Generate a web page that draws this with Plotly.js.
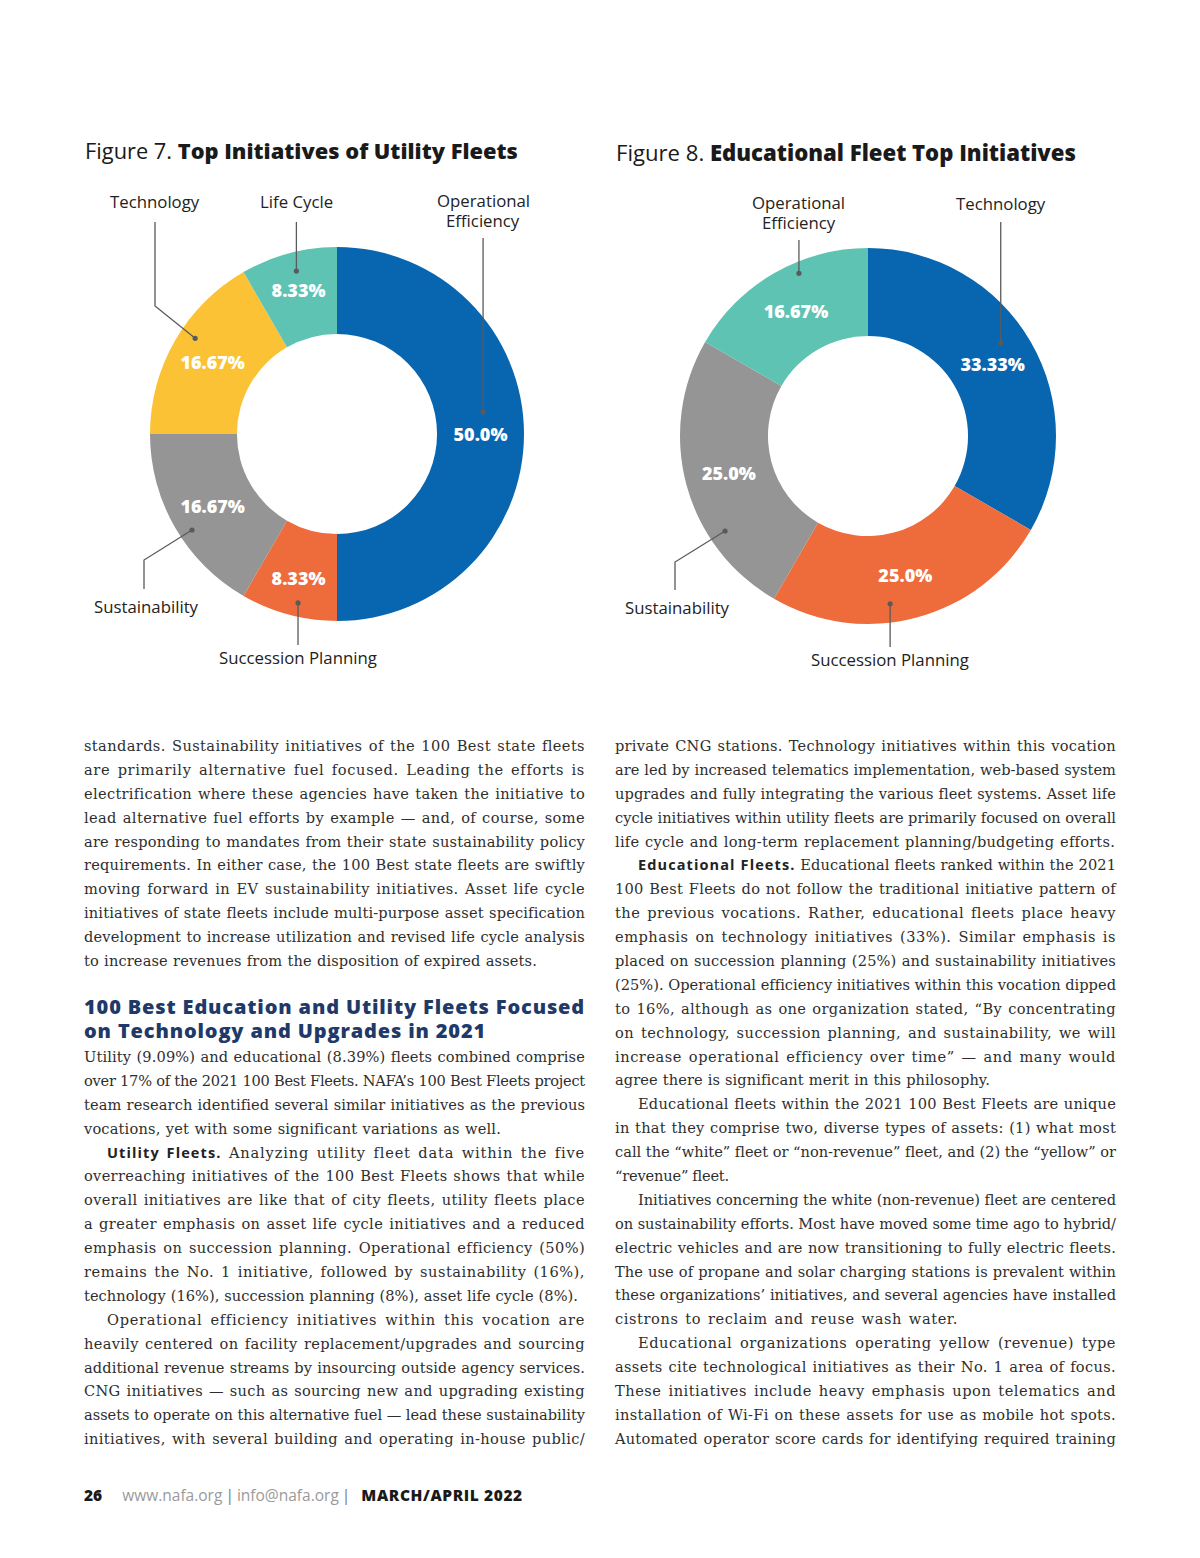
<!DOCTYPE html>
<html><head><meta charset="utf-8">
<script src="https://cdn.plot.ly/plotly-3.0.1.min.js"></script>
<style>
html,body{margin:0;padding:0;background:#fff;}
#page{position:relative;width:1200px;height:1558px;overflow:hidden;background:#fff;}
#chart{position:absolute;left:0;top:0;width:1200px;height:700px;}
.col{position:absolute;width:501px;font-family:"DejaVu Serif",serif;font-size:14.6px;line-height:23.9px;color:#2e2e2e;}
.ln{white-space:nowrap;height:23.9px;}
.ln .t{display:inline-block;}
.lead{font-family:"Open Sans",sans-serif;font-weight:700;font-size:14.5px;letter-spacing:1.1px;color:#222;}
#heading{position:absolute;left:84px;top:995px;font-family:"Open Sans",sans-serif;font-weight:800;font-size:20px;color:#1f3a68;white-space:nowrap;line-height:24px;}
#footer{position:absolute;left:84px;top:1484px;font-family:"Open Sans",sans-serif;font-size:15.5px;white-space:nowrap;line-height:22px;}
#footer .pg{font-weight:800;color:#1a1a1a;margin-right:20px;}
#footer .url{color:#9a9a9a;font-weight:400;}
#footer .bar{color:#777;margin:0 3px;}
#footer .date{font-weight:800;color:#1a1a1a;margin-left:8px;letter-spacing:0.6px;}
</style></head>
<body>
<div id="page">
<div id="chart"></div>
<div id="col1a" class="col" style="left:84px;top:734px;"></div>
<div id="heading"></div>
<div id="col1b" class="col" style="left:84px;top:1045px;"></div>
<div id="col2" class="col" style="left:615px;top:734px;"></div>
<div id="footer"><span class="pg">26</span><span class="url">www.nafa.org</span><span class="bar">|</span><span class="url">info@nafa.org</span><span class="bar">|</span><span class="date">MARCH/APRIL 2022</span></div>
</div>
<script>
// ---------- DATA ----------
const utilityLabels = ["Operational Efficiency", "Succession Planning", "Sustainability", "Technology", "Life Cycle"];
const utilityValues = [50.0, 8.33, 16.67, 16.67, 8.33];
const utilityText   = ["50.0%", "8.33%", "16.67%", "16.67%", "8.33%"];

const eduLabels = ["Technology", "Succession Planning", "Sustainability", "Operational Efficiency"];
const eduValues = [33.33, 25.0, 25.0, 16.67];
const eduText   = ["33.33%", "25.0%", "25.0%", "16.67%"];

const fig7Title = ["Figure 7. ", "Top Initiatives of Utility Fleets"];
const fig8Title = ["Figure 8. ", "Educational Fleet Top Initiatives"];

// ---------- STYLE ----------
const BLUE = "#0865b0", ORANGE = "#ee6b3c", GRAY = "#959595", YELLOW = "#fcc236", TEAL = "#5ec3b3";
const utilityColors = [BLUE, ORANGE, GRAY, YELLOW, TEAL];
const eduColors = [BLUE, ORANGE, GRAY, TEAL];

const W = 1200, H = 700;
const pie1 = {cx: 337, cy: 434, r: 187, hole: 0.535};
const pie2 = {cx: 868, cy: 436, r: 188, hole: 0.532};

const SANS = "Open Sans";
const cv = document.createElement("canvas").getContext("2d");
function tw(s, weight, size, fam) { cv.font = weight + " " + size + "px '" + fam + "'"; return cv.measureText(s).width; }

const px = x => x / W, py = y => 1 - y / H;
function dom(p) { return {x: [px(p.cx - p.r), px(p.cx + p.r)], y: [py(p.cy + p.r), py(p.cy - p.r)]}; }

function pieTrace(labels, values, text, colors, p) {
  return {
    type: "pie", labels: labels, values: values, text: text, textinfo: "text",
    sort: false, direction: "clockwise", rotation: 0, hole: p.hole,
    marker: {colors: colors, line: {width: 0}},
    textposition: "inside", insidetextorientation: "horizontal",
    textfont: {family: SANS, size: 18, color: "#ffffff", weight: 800},
    domain: dom(p), hoverinfo: "label+percent", showlegend: false
  };
}

// callouts: leader line geometry (layout only); dot derived from slice angle
const callouts1 = [
  {slice: 0, dAng: -8.6, rf: 0.79, label: "Operational<br>Efficiency", labelY: 210, endY: 238},
  {slice: 1, dAng: -2, rf: 0.927, label: "Succession Planning", labelY: 657, endY: 645},
  {slice: 2, dAng: -3.5, rf: 0.93, label: "Sustainability", labelX: 146, labelY: 606, elbow: [144, 560], endY: 589},
  {slice: 3, dAng: 4, rf: 0.915, label: "Technology", labelX: 155, labelY: 201, elbow: [155, 306], endY: 222},
  {slice: 4, dAng: 1, rf: 0.898, label: "Life Cycle", labelY: 201, endY: 222}
];
const callouts2 = [
  {slice: 0, dAng: -5, rf: 0.862, label: "Technology", labelY: 203, endY: 222},
  {slice: 1, dAng: 7.5, rf: 0.90, label: "Succession Planning", labelY: 659, endY: 647},
  {slice: 2, dAng: -18.6, rf: 0.913, label: "Sustainability", labelX: 677, labelY: 607, elbow: [675, 562], endY: 590},
  {slice: 3, dAng: 7, rf: 0.94, label: "Operational<br>Efficiency", labelY: 212, endY: 240}
];

const labelSize = 16 * 158 / tw("Succession Planning", 400, 16, SANS);

function buildCallouts(values, p, list, shapes, annotations) {
  const total = values.reduce((a, b) => a + b, 0);
  const cum = [];
  let c = 0;
  values.forEach(v => { cum.push(c + v / 2); c += v; });
  list.forEach(co => {
    const a = (360 * cum[co.slice] / total + co.dAng) * Math.PI / 180;
    const dx = p.cx + co.rf * p.r * Math.sin(a), dy = p.cy - co.rf * p.r * Math.cos(a);
    let pts;
    let lx;
    if (co.elbow) { pts = [[co.elbow[0], co.endY], co.elbow, [dx, dy]]; lx = co.labelX; }
    else { pts = [[dx, co.endY], [dx, dy]]; lx = dx; }
    shapes.push({type: "path", xref: "paper", yref: "paper",
      path: "M" + pts.map(q => px(q[0]) + "," + py(q[1])).join("L"),
      line: {color: "#5a5a5a", width: 1.3}});
    const rr = 2.6;
    shapes.push({type: "circle", xref: "paper", yref: "paper",
      x0: px(dx - rr), x1: px(dx + rr), y0: py(dy + rr), y1: py(dy - rr),
      fillcolor: "#5a5a5a", line: {width: 0}});
    const lines = co.label.split("<br>");
    const LH = 20;
    lines.forEach((t, i) => {
      const yy = co.labelY + (i - (lines.length - 1) / 2) * LH;
      annotations.push({xref: "paper", yref: "paper", x: px(lx), y: py(yy), xanchor: "center", yanchor: "middle",
        text: t, showarrow: false, align: "center",
        font: {family: SANS, size: labelSize, color: "#222"}});
    });
  });
}

function titleSize(parts, target) {
  const w = tw(parts[0], 400, 20, SANS) + tw(parts[1], 800, 20, SANS);
  return 20 * target / w;
}

const shapes = [], annotations = [];
buildCallouts(utilityValues, pie1, callouts1, shapes, annotations);
buildCallouts(eduValues, pie2, callouts2, shapes, annotations);

annotations.push({xref: "paper", yref: "paper", x: px(83), y: py(150), xanchor: "left", yanchor: "middle", showarrow: false,
  text: fig7Title[0] + '<span style="font-weight:800">' + fig7Title[1] + "</span>", font: {family: SANS, size: titleSize(fig7Title, 433), color: "#1a1a1a"}});
annotations.push({xref: "paper", yref: "paper", x: px(614), y: py(152), xanchor: "left", yanchor: "middle", showarrow: false,
  text: fig8Title[0] + '<span style="font-weight:800">' + fig8Title[1] + "</span>", font: {family: SANS, size: titleSize(fig8Title, 460), color: "#1a1a1a"}});

Plotly.newPlot("chart", [
  pieTrace(utilityLabels, utilityValues, utilityText, utilityColors, pie1),
  pieTrace(eduLabels, eduValues, eduText, eduColors, pie2)
], {
  width: W, height: H, margin: {l: 0, r: 0, t: 0, b: 0},
  paper_bgcolor: "rgba(0,0,0,0)", plot_bgcolor: "rgba(0,0,0,0)",
  showlegend: false, shapes: shapes, annotations: annotations
}, {staticPlot: true, displayModeBar: false});

// ---------- ARTICLE TEXT ----------
// ">" = indented first line, "¶" = paragraph end (not justified)
const col1a = [
  "standards. Sustainability initiatives of the 100 Best state fleets",
  "are primarily alternative fuel focused. Leading the efforts is",
  "electrification where these agencies have taken the initiative to",
  "lead alternative fuel efforts by example — and, of course, some",
  "are responding to mandates from their state sustainability policy",
  "requirements. In either case, the 100 Best state fleets are swiftly",
  "moving forward in EV sustainability initiatives. Asset life cycle",
  "initiatives of state fleets include multi-purpose asset specification",
  "development to increase utilization and revised life cycle analysis",
  "to increase revenues from the disposition of expired assets.¶"
];
const headingLines = ["100 Best Education and Utility Fleets Focused", "on Technology and Upgrades in 2021"];
const col1b = [
  "Utility (9.09%) and educational (8.39%) fleets combined comprise",
  "over 17% of the 2021 100 Best Fleets. NAFA’s 100 Best Fleets project",
  "team research identified several similar initiatives as the previous",
  "vocations, yet with some significant variations as well.¶",
  ">**Utility Fleets.** Analyzing utility fleet data within the five",
  "overreaching initiatives of the 100 Best Fleets shows that while",
  "overall initiatives are like that of city fleets, utility fleets place",
  "a greater emphasis on asset life cycle initiatives and a reduced",
  "emphasis on succession planning. Operational efficiency (50%)",
  "remains the No. 1 initiative, followed by sustainability (16%),",
  "technology (16%), succession planning (8%), asset life cycle (8%).¶",
  ">Operational efficiency initiatives within this vocation are",
  "heavily centered on facility replacement/upgrades and sourcing",
  "additional revenue streams by insourcing outside agency services.",
  "CNG initiatives — such as sourcing new and upgrading existing",
  "assets to operate on this alternative fuel — lead these sustainability",
  "initiatives, with several building and operating in-house public/"
];
const col2 = [
  "private CNG stations. Technology initiatives within this vocation",
  "are led by increased telematics implementation, web-based system",
  "upgrades and fully integrating the various fleet systems. Asset life",
  "cycle initiatives within utility fleets are primarily focused on overall",
  "life cycle and long-term replacement planning/budgeting efforts.¶",
  ">**Educational Fleets.** Educational fleets ranked within the 2021",
  "100 Best Fleets do not follow the traditional initiative pattern of",
  "the previous vocations. Rather, educational fleets place heavy",
  "emphasis on technology initiatives (33%). Similar emphasis is",
  "placed on succession planning (25%) and sustainability initiatives",
  "(25%). Operational efficiency initiatives within this vocation dipped",
  "to 16%, although as one organization stated, “By concentrating",
  "on technology, succession planning, and sustainability, we will",
  "increase operational efficiency over time” — and many would",
  "agree there is significant merit in this philosophy.¶",
  ">Educational fleets within the 2021 100 Best Fleets are unique",
  "in that they comprise two, diverse types of assets: (1) what most",
  "call the “white” fleet or “non-revenue” fleet, and (2) the “yellow” or",
  "“revenue” fleet.¶",
  ">Initiatives concerning the white (non-revenue) fleet are centered",
  "on sustainability efforts. Most have moved some time ago to hybrid/",
  "electric vehicles and are now transitioning to fully electric fleets.",
  "The use of propane and solar charging stations is prevalent within",
  "these organizations’ initiatives, and several agencies have installed",
  "cistrons to reclaim and reuse wash water.¶",
  ">Educational organizations operating yellow (revenue) type",
  "assets cite technological initiatives as their No. 1 area of focus.",
  "These initiatives include heavy emphasis upon telematics and",
  "installation of Wi-Fi on these assets for use as mobile hot spots.",
  "Automated operator score cards for identifying required training"
];
// typeset widths of paragraph-ending lines (layout)
const col1aLastW = [453];
const col1bLastW = [417, 494];
const col2LastW = [500, 375, 114, 343];

function buildCol(id, lines, lastWidths) {
  const el = document.getElementById(id);
  const COLW = 501, IND = 23;
  let li = 0;
  lines.forEach(raw => {
    let s = raw, indent = false, last = false;
    if (s.startsWith(">")) { indent = true; s = s.slice(1); }
    if (s.endsWith("¶")) { last = true; s = s.slice(0, -1); }
    const div = document.createElement("div");
    div.className = "ln";
    if (indent) div.style.paddingLeft = IND + "px";
    const sp = document.createElement("span");
    sp.className = "t";
    let plainChars = 0;
    const parts = s.split("**");
    parts.forEach((part, i) => {
      if (i % 2 === 1) { const b = document.createElement("span"); b.className = "lead"; b.textContent = part; sp.appendChild(b); }
      else { sp.appendChild(document.createTextNode(part)); plainChars += part.length; }
    });
    div.appendChild(sp);
    el.appendChild(div);
    const target = last ? lastWidths[li++] : COLW - (indent ? IND : 0);
    const n = (s.match(/ /g) || []).length;
    const w = sp.getBoundingClientRect().width;
    const extra = target - w;
    let ls = extra > 0 ? 0.7 * extra / plainChars : extra / plainChars;
    sp.style.letterSpacing = ls + "px";
    let w2 = sp.getBoundingClientRect().width;
    if (n) {
      sp.style.wordSpacing = ((target - w2) / n) + "px";
    }
  });
}
buildCol("col1a", col1a, col1aLastW);
buildCol("col1b", col1b, col1bLastW);
buildCol("col2", col2, col2LastW);

(function () {
  const h = document.getElementById("heading");
  h.innerHTML = headingLines.map(t => "<div>" + t + "</div>").join("");
  const first = document.createElement("span");
  first.textContent = headingLines[0];
  first.style.whiteSpace = "nowrap";
  h.appendChild(first);
  const w = first.getBoundingClientRect().width;
  h.removeChild(first);
  h.style.letterSpacing = ((501 - w) / headingLines[0].length) + "px";
})();
</script>
</body></html>
